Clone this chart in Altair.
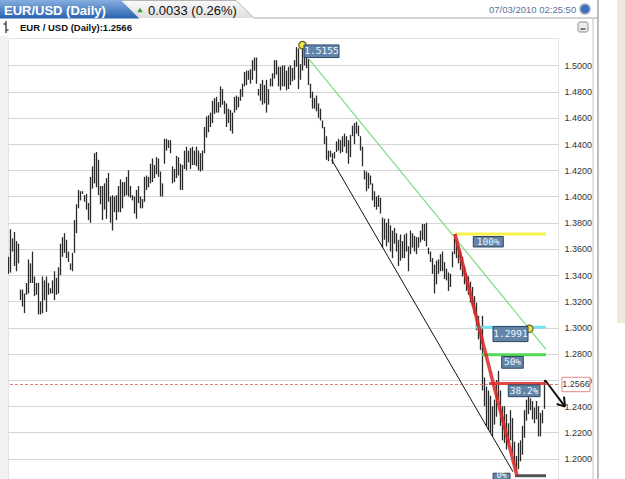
import altair as alt
import pandas as pd

# ---------------- data ----------------
highs = [
    1.354, 1.375, 1.368, 1.373, 1.366, 1.364, 1.329, 1.329, 1.326, 1.334,
    1.352, 1.349, 1.358, 1.339, 1.334, 1.334, 1.320, 1.339, 1.336, 1.339,
    1.334, 1.330, 1.336, 1.343, 1.338, 1.346, 1.364, 1.369, 1.372, 1.367,
    1.358, 1.349, 1.357, 1.382, 1.394, 1.405, 1.404, 1.404, 1.401, 1.402,
    1.395, 1.415, 1.423, 1.433, 1.434, 1.428, 1.408, 1.408, 1.410, 1.414,
    1.418, 1.400, 1.401, 1.400, 1.401, 1.408, 1.413, 1.411, 1.411, 1.415,
    1.420, 1.408, 1.401, 1.400, 1.405, 1.408,
    1.400, 1.398, 1.415, 1.416, 1.415, 1.425, 1.429, 1.424, 1.430, 1.429,
    1.419, 1.410, 1.444, 1.444, 1.443, 1.443, 1.423, 1.421, 1.431, 1.430,
    1.425, 1.424, 1.435, 1.438, 1.435, 1.437, 1.438, 1.435, 1.438, 1.435,
    1.433, 1.435, 1.453, 1.461, 1.462, 1.464, 1.473, 1.475, 1.476, 1.472,
    1.484, 1.482, 1.473, 1.471, 1.467, 1.466, 1.464, 1.476, 1.477, 1.476,
    1.482, 1.486, 1.495, 1.496, 1.496, 1.497, 1.504, 1.506, 1.506, 1.482,
    1.486, 1.489, 1.485, 1.489,
    1.482, 1.490, 1.494, 1.504, 1.504, 1.499, 1.499, 1.500, 1.500, 1.496,
    1.499, 1.500, 1.498, 1.504, 1.514, 1.513, 1.501, 1.5155, 1.512, 1.507,
    1.505, 1.486, 1.480, 1.475, 1.477, 1.471, 1.467, 1.458, 1.453, 1.446,
    1.435, 1.435, 1.433, 1.434, 1.442, 1.444, 1.443, 1.446, 1.448, 1.446,
    1.443, 1.447, 1.454, 1.456, 1.457, 1.454, 1.446, 1.438, 1.420, 1.419,
    1.418, 1.416, 1.410, 1.404, 1.400, 1.401, 1.399,
    1.384, 1.383, 1.380, 1.383, 1.378, 1.374, 1.376, 1.372, 1.367, 1.371,
    1.366, 1.371, 1.372, 1.362, 1.374, 1.372, 1.370, 1.369, 1.369, 1.374,
    1.379, 1.379, 1.380, 1.361, 1.358, 1.353, 1.348, 1.351, 1.352, 1.356,
    1.358, 1.350, 1.345, 1.342, 1.341, 1.358, 1.3714, 1.367,
    1.362, 1.358, 1.354, 1.347, 1.341, 1.339, 1.335, 1.331, 1.324, 1.319,
    1.309, 1.300, 1.309, 1.262, 1.255, 1.252, 1.248, 1.240, 1.245, 1.260,
    1.267, 1.252, 1.240, 1.240, 1.234, 1.227, 1.237, 1.231, 1.213, 1.202,
    1.212, 1.214, 1.225, 1.237, 1.245, 1.247, 1.246, 1.244, 1.239, 1.244,
    1.240, 1.235, 1.237, 1.260,
]
lows = [
    1.341, 1.342, 1.358, 1.347, 1.343, 1.349, 1.321, 1.316, 1.311, 1.325,
    1.326, 1.334, 1.334, 1.324, 1.325, 1.310, 1.310, 1.311, 1.321, 1.312,
    1.325, 1.326, 1.326, 1.321, 1.325, 1.326, 1.340, 1.354, 1.357, 1.353,
    1.350, 1.344, 1.343, 1.357, 1.372, 1.391, 1.397, 1.402, 1.396, 1.390,
    1.382, 1.380, 1.406, 1.410, 1.407, 1.401, 1.394, 1.382, 1.390, 1.383,
    1.396, 1.380, 1.374, 1.388, 1.382, 1.388, 1.388, 1.391, 1.400, 1.401,
    1.400, 1.399, 1.397, 1.387, 1.383, 1.395,
    1.391, 1.391, 1.396, 1.405, 1.407, 1.410, 1.411, 1.414, 1.417, 1.415,
    1.400, 1.400, 1.425, 1.435, 1.437, 1.433, 1.410, 1.411, 1.414, 1.416,
    1.405, 1.405, 1.421, 1.420, 1.426, 1.421, 1.424, 1.424, 1.423, 1.420,
    1.419, 1.420, 1.433, 1.445, 1.449, 1.453, 1.456, 1.463, 1.464, 1.464,
    1.468, 1.470, 1.463, 1.453, 1.456, 1.450, 1.448, 1.464, 1.466, 1.468,
    1.473, 1.476, 1.484, 1.485, 1.489, 1.486, 1.489, 1.496, 1.486, 1.477,
    1.473, 1.470, 1.471, 1.464,
    1.470, 1.484, 1.484, 1.490, 1.493, 1.484, 1.481, 1.484, 1.484, 1.481,
    1.482, 1.485, 1.488, 1.489, 1.499, 1.482, 1.489, 1.496, 1.500, 1.498,
    1.485, 1.475, 1.467, 1.467, 1.465, 1.460, 1.458, 1.452, 1.440, 1.428,
    1.427, 1.430, 1.425, 1.429, 1.434, 1.435, 1.433, 1.434, 1.438, 1.433,
    1.425, 1.430, 1.446, 1.440, 1.448, 1.446, 1.435, 1.423, 1.413, 1.404,
    1.406, 1.409, 1.397, 1.392, 1.390, 1.392, 1.387,
    1.361, 1.367, 1.362, 1.365, 1.358, 1.353, 1.364, 1.358, 1.347, 1.351,
    1.353, 1.353, 1.358, 1.343, 1.356, 1.361, 1.358, 1.356, 1.361, 1.365,
    1.367, 1.366, 1.362, 1.356, 1.350, 1.341, 1.326, 1.333, 1.341, 1.343,
    1.343, 1.337, 1.336, 1.328, 1.331, 1.346, 1.356, 1.353,
    1.349, 1.344, 1.339, 1.333, 1.328, 1.325, 1.319, 1.316, 1.310, 1.298,
    1.291, 1.283, 1.252, 1.240, 1.225, 1.222, 1.220, 1.217, 1.226, 1.232,
    1.245, 1.225, 1.214, 1.212, 1.207, 1.212, 1.214, 1.204, 1.195, 1.1905,
    1.192, 1.198, 1.203, 1.216, 1.229, 1.234, 1.237, 1.230, 1.227, 1.230,
    1.217, 1.217, 1.227, 1.238,
]
y_ticks = [1.20, 1.22, 1.24, 1.26, 1.28, 1.30, 1.32, 1.34, 1.36, 1.38,
           1.40, 1.42, 1.44, 1.46, 1.48, 1.50]
last_price = 1.2566
peak_index = 147
peak_price = 1.5155
# Fibonacci levels (100% high, 50%, 38.2%, 0% low) and the 1.2991 line
fib_prices = [1.3714, 1.2792, 1.2574, 1.1870]
fib_start = [223.25, 236.75, 240.25, 253.25]
fib_colors = ["#f7f045", "#4bd84b", "#e43c3c", "#4a4a4a"]
cyan_price = 1.3002
cyan_start = 233.75
cross_index = 260.4
cross_price = 1.2991
level_end = 268.75
# trend lines (index, price)
green_line = [(150.25, 1.5047), (268.75, 1.2834)]
black_line = [(161.6, 1.4280), (252.25, 1.1900)]
red_line = [(223.25, 1.3714), (254.25, 1.1870)]
# label boxes: text, index from/to, price top/bottom, text price, text size
label_text = ["1.5155", "100%", "1.2991", "50%", "38.2%", "0%"]
label_x1 = [147.75, 232.4, 242.25, 246.6, 249.9, 242.3]
label_x2 = [165.25, 247.4, 259.75, 257.4, 265.75, 250.75]
label_top = [1.5156, 1.3695, 1.3008, 1.2780, 1.2563, 1.1889]
label_bot = [1.5060, 1.3615, 1.2893, 1.2690, 1.2473, 1.1795]
label_mid = [1.5108, 1.3655, 1.29505, 1.2735, 1.2518, 1.1877]
label_size = [9.5, 9.5, 9.5, 9.5, 9.5, 8.5]

# ---------------- chart ----------------
bars_df = pd.DataFrame({"i": list(range(len(highs))), "high": highs, "low": lows})
one = pd.DataFrame({"d": [0]})

xs = alt.Scale(domain=[-0.25, 274.75], nice=False, zero=False)
ys = alt.Scale(domain=[1.1845, 1.5209], nice=False, zero=False)
yaxis = alt.Axis(orient="right", values=y_ticks, format=".4f", grid=True,
                 gridColor="#d5d5d5", gridWidth=1, ticks=False, domain=False,
                 labelFontSize=9, labelColor="#333333", labelPadding=6,
                 labelFont="Liberation Sans", title=None, labelAlign="left")


def X(f):
    return alt.X(f, type="quantitative", scale=xs, axis=None)


def Y(f):
    return alt.Y(f, type="quantitative", scale=ys, axis=yaxis)


layers = []

bars = alt.Chart(bars_df).mark_rule(color="#2a2a2a", strokeWidth=1.3).encode(
    x=X("i"), y=Y("low"), y2="high",
)
layers.append(bars)

# dashed last-price line
layers.append(
    alt.Chart(pd.DataFrame({"p": [last_price]})).mark_rule(
        color="#e07a7a", strokeDash=[3, 2], strokeWidth=1).encode(y=Y("p"))
)


def seg_layer(pts, color, width, opacity=1.0):
    df = pd.DataFrame({"xa": [pts[0][0]], "ya": [pts[0][1]],
                       "xb": [pts[1][0]], "yb": [pts[1][1]]})
    return alt.Chart(df).mark_rule(color=color, strokeWidth=width,
                                   opacity=opacity).encode(
        x=X("xa"), y=Y("ya"), x2="xb", y2="yb")


layers.append(seg_layer(black_line, "#111111", 1))
layers.append(seg_layer(green_line, "#7fdc7f", 1.2))

lev_df = pd.DataFrame({"p": fib_prices + [cyan_price],
                       "s": fib_start + [cyan_start],
                       "e": [level_end] * 5,
                       "c": fib_colors + ["#6fe2ef"]})
layers.append(
    alt.Chart(lev_df).mark_rule(strokeWidth=3, opacity=0.95).encode(
        x=X("s"), x2="e", y=Y("p"),
        color=alt.Color("c:N", scale=None))
)
layers.append(seg_layer(red_line, "#dd2525", 3.5, 0.85))

pts_df = pd.DataFrame({"i": [peak_index, cross_index], "p": [peak_price, cross_price]})
layers.append(
    alt.Chart(pts_df).mark_point(filled=True, size=55, color="#f2e64a",
                                 stroke="#6b6020", strokeWidth=1.2, opacity=1).encode(
        x=X("i"), y=Y("p"))
)

lab_df = pd.DataFrame({"t": label_text, "x1": label_x1, "x2": label_x2,
                       "y1": label_top, "y2": label_bot, "ym": label_mid,
                       "fs": label_size})
lab_df["xm"] = (lab_df["x1"] + lab_df["x2"]) / 2
layers.append(
    alt.Chart(lab_df).mark_rect(color="#6385a8", stroke="#2d465f", strokeWidth=1).encode(
        x=X("x1"), x2="x2", y=Y("y1"), y2="y2")
)
layers.append(
    alt.Chart(lab_df).mark_text(color="#eef6ff", font="DejaVu Sans Mono",
                                baseline="middle", align="center").encode(
        x=X("xm"), y=Y("ym"), text="t:N",
        size=alt.Size("fs:Q", scale=None, legend=None))
)

# current price box on the axis
pb_df = pd.DataFrame({"t": ["1.2566"], "a": [last_price + 0.0055],
                      "b": [last_price - 0.0055], "p": [last_price]})
layers.append(
    alt.Chart(pb_df).mark_rect(color="white", stroke="#e08a8a", strokeWidth=1).encode(
        x=alt.value(554), x2=alt.value(582), y=Y("a"), y2="b")
)
layers.append(
    alt.Chart(pb_df).mark_text(color="#333333", font="Liberation Sans", fontSize=9,
                               baseline="middle", align="center").encode(
        x=alt.value(568), y=Y("p"), text="t:N")
)

# black arrow
arrow = [((268.25, 1.2600), (278.25, 1.2397)),
         ((278.25, 1.2397), (277.75, 1.2473)),
         ((278.25, 1.2397), (274.1, 1.2417))]
for a in arrow:
    layers.append(seg_layer(a, "#111111", 2))


# ---------------- header (pixel positions relative to plot origin) ----------------
def hx(v):
    return v - 8


def hy(v):
    return v - 38


def hrect(x1, x2, y1, y2, **kw):
    return alt.Chart(one).mark_rect(**kw).encode(
        x=alt.value(hx(x1)), x2=alt.value(hx(x2)),
        y=alt.value(hy(y1)), y2=alt.value(hy(y2)))


def hrule(x1, y1, x2, y2, **kw):
    return alt.Chart(one).mark_rule(**kw).encode(
        x=alt.value(hx(x1)), x2=alt.value(hx(x2)),
        y=alt.value(hy(y1)), y2=alt.value(hy(y2)))


def htext(x, y, s, **kw):
    return alt.Chart(one).mark_text(text=s, **kw).encode(
        x=alt.value(hx(x)), y=alt.value(hy(y)))


def hpoint(x, y, **kw):
    return alt.Chart(one).mark_point(**kw).encode(
        x=alt.value(hx(x)), y=alt.value(hy(y)))


blue_grad = alt.Gradient(gradient="linear",
                         stops=[alt.GradientStop(color="#86afe0", offset=0),
                                alt.GradientStop(color="#2a62ad", offset=1)],
                         x1=0, x2=0, y1=0, y2=1)
gray_grad = alt.Gradient(gradient="linear",
                         stops=[alt.GradientStop(color="#fbfbfb", offset=0),
                                alt.GradientStop(color="#dedede", offset=1)],
                         x1=0, x2=0, y1=0, y2=1)
tri = "M-1,-1L1,1L-1,1Z"
narrow = "'Liberation Sans Narrow', 'Arial Narrow', 'Liberation Sans', sans-serif"

header = [
    hrect(617, 625, 0, 323, color="#efebdc"),
    hrect(0, 8, 36, 479, color="#f1f1f1"),
    # gray tab
    hrect(118, 236, 0, 18, color=gray_grad),
    hpoint(245, 9, shape=tri, size=324, filled=True, color=gray_grad, opacity=1),
    hrule(118, 0.5, 236, 0.5, color="#b4b4b4", strokeWidth=1),
    hrule(236, 0.5, 254, 18, color="#b4b4b4", strokeWidth=1),
    hrule(254, 18, 597, 18, color="#a8a8a8", strokeWidth=1),
    # blue tab
    hrect(0, 121, 0, 18.5, color=blue_grad),
    hpoint(130, 9.25, shape=tri, size=342, filled=True, color=blue_grad, opacity=1),
    htext(4, 14.5, "EUR/USD (Daily)", font=narrow, fontSize=13, fontWeight="bold",
          color="white", align="left", baseline="alphabetic"),
    hpoint(140, 10, shape="triangle-up", size=28, filled=True, color="#2aa52a", opacity=1),
    htext(148, 14.5, "0.0033 (0.26%)", font=narrow, fontSize=13,
          color="#111111", align="left", baseline="alphabetic"),
    htext(489, 13, "07/03/2010 02:25:50", font="Liberation Sans", fontSize=9.5,
          color="#56739b", align="left", baseline="alphabetic"),
    hpoint(585, 9, shape="circle", size=105, filled=True, color="#3d6fc2",
           stroke="#a8b0bb", strokeWidth=1.5, opacity=1),
    # title line
    hrule(6, 21, 6, 33, color="#333333", strokeWidth=1.3),
    hrule(3.5, 24, 6, 24, color="#333333", strokeWidth=1.3),
    hrule(6, 30, 8.5, 30, color="#333333", strokeWidth=1.3),
    htext(20, 31, "EUR / USD (Daily):1.2566", font="Liberation Sans", fontSize=9.5,
          fontWeight="bold", color="#111111", align="left", baseline="alphabetic"),
    hrect(578, 588, 22, 32, color="#ececec", stroke="#8c8c8c", strokeWidth=1,
          cornerRadius=2),
    hrule(580.5, 29, 585.5, 29, color="#555555", strokeWidth=1.5),
    # widget border on the right
    hrule(593, 18, 593, 479, color="#c4c4c4", strokeWidth=1),
    hrule(598, 0, 598, 479, color="#7c7c7c", strokeWidth=1),
]

chart = alt.layer(*(layers + header)).properties(
    width=550, height=441,
    padding={"left": 8, "top": 38, "right": 67, "bottom": 0},
    autosize=alt.AutoSizeParams(type="none"),
    background="white",
).configure_view(stroke="#e4e4e4")

chart.save("out.html", embed_options={"renderer": "svg", "actions": False})
